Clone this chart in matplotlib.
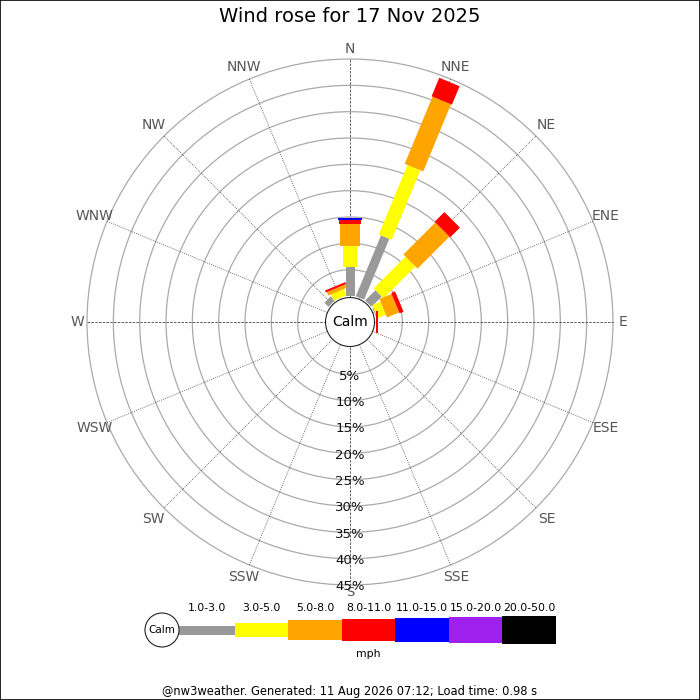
import numpy as np
import matplotlib
matplotlib.use("Agg")
import matplotlib.pyplot as plt
from matplotlib.patches import Polygon, Circle, Rectangle

# data: segment lengths (% of time) per direction and speed class
directions = ["N", "NNE", "NE", "ENE", "E", "ESE", "SE", "SSE",
              "S", "SSW", "SW", "WSW", "W", "WNW", "NW", "NNW"]
speed_bins = ["1.0-3.0", "3.0-5.0", "5.0-8.0", "8.0-11.0",
              "11.0-15.0", "15.0-20.0", "20.0-50.0"]
bin_colors = ["#999999", "#ffff00", "#ffa500", "#ff0000",
              "#0000ff", "#a020f0", "#000000"]
bin_widths = [9, 14, 20, 22, 24, 26, 28]

# percent per direction for each speed bin
freq = {
    "N":   [5.6, 3.8, 4.3, 0.7, 0.35, 0, 0],
    "NNE": [12.5, 14.3, 13.8, 3.8, 0, 0, 0],
    "NE":  [2.75, 8.55, 8.6, 2.6, 0, 0, 0],
    "ENE": [0.2, 1.7, 2.5, 0.8, 0, 0, 0],
    "E":   [0, 0, 0, 0.3, 0, 0, 0],
    "NW":  [1.1, 0, 0, 0, 0, 0, 0],
    "NNW": [0, 1.3, 0.7, 0.4, 0, 0, 0],
}
ring_pcts = [5, 10, 15, 20, 25, 30, 35, 40, 45]

title = "Wind rose for 17 Nov 2025"
footer = "@nw3weather. Generated: 11 Aug 2026 07:12; Load time: 0.98 s"

R0 = 26.0      # radius of 0 %
K = 5.266      # px per percent
R_CALM = 24.5


def rad(p):
    return R0 + p * K


fig = plt.figure(figsize=(7, 7), dpi=100)
ax = fig.add_axes([0, 0, 1, 1])
ax.set_xlim(-350, 350)
ax.set_ylim(-378, 322)
ax.set_aspect("equal")
ax.axis("off")

# rings
for p in ring_pcts:
    ax.add_patch(Circle((0, 0), rad(p), fill=False, ec="#aaaaaa", lw=0.9, zorder=1))

# spokes and compass labels
for i, d in enumerate(directions):
    th = np.deg2rad(i * 22.5)
    ux, uy = np.sin(th), np.cos(th)
    ls = (0, (3, 1.5)) if i % 4 == 0 else (0, (1, 1.5))
    ax.plot([R_CALM * ux, rad(45) * ux], [R_CALM * uy, rad(45) * uy],
            color="#444444", lw=0.6, ls=ls, zorder=2)
    rl = 273 + 10 * abs(ux * uy)
    if d == "S":
        rl = 271
    ax.text(rl * ux, rl * uy, d, ha="center", va="center",
            fontsize=10 if d != "S" else 9.5, color="#555555", zorder=5)

# bars
for i, d in enumerate(directions):
    if d not in freq:
        continue
    th = np.deg2rad(i * 22.5)
    u = np.array([np.sin(th), np.cos(th)])
    v = np.array([np.cos(th), -np.sin(th)])
    start = 0.0
    for val, col, w in zip(freq[d], bin_colors, bin_widths):
        if val <= 0:
            continue
        ra, rb = rad(start), rad(start + val)
        pts = [ra * u - w / 2 * v, rb * u - w / 2 * v,
               rb * u + w / 2 * v, ra * u + w / 2 * v]
        ax.add_patch(Polygon(pts, closed=True, fc=col, ec="none", zorder=3))
        start += val

# calm circle
ax.add_patch(Circle((0, 0), R_CALM, fc="white", ec="#222222", lw=0.8, zorder=4))
ax.text(0, 0, "Calm", ha="center", va="center", fontsize=10, zorder=5)

# radial labels along S
for p in ring_pcts:
    ax.text(0, -rad(p) - 2, f"{p}%", ha="center", va="center", fontsize=9.5,
            color="#111111", zorder=5)

# legend
leg_y = -308
ax.add_patch(Circle((-188, leg_y), 17, fc="white", ec="#222222", lw=0.8, zorder=4))
ax.text(-188, leg_y, "Calm", ha="center", va="center", fontsize=7.5, zorder=5)
x0 = -171
seg = [56, 53, 54, 53, 54, 53, 54]
for lab, col, w, s in zip(speed_bins, bin_colors, bin_widths, seg):
    ax.add_patch(Rectangle((x0, leg_y - w / 2), s, w, fc=col, ec="none", zorder=3))
    ax.text(x0 + s / 2, leg_y + 22, lab, ha="center", va="center", fontsize=7.8)
    x0 += s
ax.text(18, leg_y - 24, "mph", ha="center", va="center", fontsize=7.8)

fig.text(0.5, 1 - 17 / 700, title, ha="center", va="center", fontsize=14)
fig.text(0.5, 1 - 691 / 700, footer, ha="center", va="center", fontsize=8.3)

# frame
fig.add_artist(Rectangle((0.0007, 0.0007), 0.9986, 0.9986, transform=fig.transFigure,
                         fill=False, ec="black", lw=1.2))

fig.savefig("out.png", dpi=100)
